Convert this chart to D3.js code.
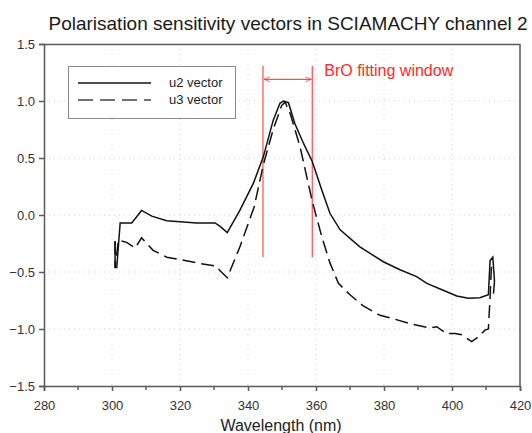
<!DOCTYPE html>
<html>
<head>
<meta charset="utf-8">
<script src="https://cdn.jsdelivr.net/npm/d3@7/dist/d3.min.js"></script>
<style>
    body { margin: 0; background: #fff; }
    svg { font-family: Arial, "Liberation Sans", sans-serif; }
</style>
</head>
<body>
<div id="chart"></div>
<script>
    'use strict';

    // u2 vector (solid)
    var u2Wavelength = [300.9, 300.9, 301.4, 302.4, 305.8, 308.7, 311.7, 316.1, 320.0, 324.9, 330.3, 331.8, 333.9,
        337.6, 341.6, 344.5, 347.4, 349.4, 350.4, 351.9, 353.8, 356.3, 358.9, 361.7, 364.1, 367.1, 372.9,
        379.8, 384.7, 389.6, 392.6, 397.4, 401.4, 404.8, 408.2, 410.7, 411.2, 412.0, 412.5, 412.2];
    var u2Values = [-0.23, -0.46, -0.46, -0.07, -0.07, 0.04, -0.01, -0.05, -0.06, -0.07, -0.07, -0.10, -0.155,
        0.04, 0.28, 0.51, 0.83, 0.98, 1.0, 0.985, 0.80, 0.63, 0.47, 0.22, 0.015, -0.13, -0.28,
        -0.41, -0.48, -0.54, -0.60, -0.66, -0.71, -0.73, -0.725, -0.70, -0.40, -0.37, -0.58, -0.69];

    // u3 vector (dashed)
    var u3Wavelength = [300.9, 300.9, 301.9, 304.3, 306.8, 308.7, 310.2, 312.1, 316.1, 320.0, 324.9, 330.8, 331.8,
        333.9, 337.6, 341.8, 344.5, 347.4, 349.9, 350.9, 352.4, 355.3, 358.9, 361.7, 364.1, 366.6, 370.0,
        374.0, 378.8, 382.7, 388.6, 393.5, 395.5, 398.4, 400.9, 402.8, 405.8, 407.7, 409.7, 410.7, 411.2, 411.6];
    var u3Values = [-0.23, -0.46, -0.22, -0.24, -0.29, -0.20, -0.25, -0.31, -0.37, -0.39, -0.42, -0.45, -0.49,
        -0.55, -0.28, 0.07, 0.44, 0.75, 0.96, 0.99, 0.89, 0.60, 0.12, -0.19, -0.42, -0.60, -0.70,
        -0.80, -0.88, -0.91, -0.96, -0.99, -0.98, -1.04, -1.04, -1.05, -1.11, -1.07, -1.01, -1.00, -0.72, -0.45];

    var xTicks = [280, 300, 320, 340, 360, 380, 400, 420];
    var xMinorTicks = [290, 310, 330, 350, 370, 390, 410];
    var yTicks = [-1.5, -1.0, -0.5, 0.0, 0.5, 1.0, 1.5];

    var broWindow = [344.4, 358.9];
    var broRange = [-0.37, 1.31];
    var broArrowY = 1.19;

    var seriesNames = ['u2 vector', 'u3 vector'];

    var margin = {top: 44, right: 12, bottom: 47, left: 44},
        width = 532 - margin.left - margin.right,
        height = 433 - margin.top - margin.bottom;

    var x = d3.scaleLinear().domain([280, 420]).range([0, width]);
    var y = d3.scaleLinear().domain([-1.5, 1.5]).range([height, 0]);

    var svg = d3.select('#chart').append('svg')
        .attr('width', 532)
        .attr('height', 433);

    var defs = svg.append('defs');
    ['start', 'end'].forEach(function (k) {
        defs.append('marker')
            .attr('id', 'arrow-' + k)
            .attr('viewBox', '0 0 10 10')
            .attr('refX', k === 'end' ? 10 : 0).attr('refY', 5)
            .attr('markerWidth', 7).attr('markerHeight', 6)
            .attr('markerUnits', 'userSpaceOnUse')
            .attr('orient', 'auto')
            .append('path')
            .attr('d', k === 'end' ? 'M0,1 L10,5 L0,9' : 'M10,1 L0,5 L10,9')
            .attr('fill', 'none')
            .attr('stroke', '#ff3b3b')
            .attr('stroke-width', 1.2);
    });

    var g = svg.append('g')
        .attr('transform', 'translate(' + margin.left + ',' + margin.top + ')');

    // grid
    g.append('g').selectAll('line')
        .data(xTicks.slice(1, -1))
        .enter().append('line')
        .attr('x1', x).attr('x2', x)
        .attr('y1', 0).attr('y2', height)
        .attr('stroke', '#c8c8c8')
        .attr('stroke-width', 0.8)
        .attr('stroke-dasharray', '1,4');

    g.append('g').selectAll('line')
        .data(yTicks.slice(1, -1))
        .enter().append('line')
        .attr('x1', 0).attr('x2', width)
        .attr('y1', y).attr('y2', y)
        .attr('stroke', '#c8c8c8')
        .attr('stroke-width', 0.8)
        .attr('stroke-dasharray', '1,4');

    // frame (top and right)
    g.append('path')
        .attr('d', 'M0,0.5H' + width + 'V' + height)
        .attr('fill', 'none')
        .attr('stroke', '#5a5a5a')
        .attr('stroke-width', 1.5);

    // axes
    var xAxis = g.append('g')
        .attr('transform', 'translate(0,' + height + ')')
        .call(d3.axisBottom(x).tickValues(xTicks).tickSize(5).tickPadding(10).tickFormat(d3.format('d')));

    g.append('g')
        .attr('transform', 'translate(0,' + height + ')')
        .selectAll('line')
        .data(xMinorTicks)
        .enter().append('line')
        .attr('x1', x).attr('x2', x)
        .attr('y1', 0).attr('y2', 4)
        .attr('stroke', '#5a5a5a')
        .attr('stroke-width', 1.5);

    var yAxis = g.append('g')
        .call(d3.axisLeft(y).tickValues(yTicks).tickSize(5).tickPadding(4).tickFormat(d3.format('.1f')));

    [xAxis, yAxis].forEach(function (a) {
        a.select('.domain').attr('stroke', '#5a5a5a').attr('stroke-width', 1.5);
        a.selectAll('.tick line').attr('stroke', '#5a5a5a').attr('stroke-width', 1.5);
        a.selectAll('.tick text')
            .attr('fill', '#333')
            .style('font-size', '13px')
            .style('font-family', 'Arial, "Liberation Sans", sans-serif');
    });

    // BrO window
    var bro = g.append('g');
    bro.selectAll('line.win')
        .data(broWindow)
        .enter().append('line')
        .attr('class', 'win')
        .attr('x1', x).attr('x2', x)
        .attr('y1', y(broRange[1])).attr('y2', y(broRange[0]))
        .attr('stroke', '#ff4a4a')
        .attr('stroke-width', 1.2);

    bro.append('line')
        .attr('x1', x(broWindow[0]) + 1).attr('x2', x(broWindow[1]) - 1)
        .attr('y1', y(broArrowY)).attr('y2', y(broArrowY))
        .attr('stroke', '#ff4a4a')
        .attr('stroke-width', 1.2)
        .attr('marker-start', 'url(#arrow-start)')
        .attr('marker-end', 'url(#arrow-end)');

    bro.append('text')
        .attr('x', x(broWindow[1]) + 12)
        .attr('y', y(broArrowY) - 3)
        .attr('fill', '#ff2a2a')
        .style('font-size', '16px')
        .text('BrO fitting window');

    // series
    var line = d3.line()
        .x(function (d) { return x(d[0]); })
        .y(function (d) { return y(d[1]); });

    g.append('path')
        .datum(d3.zip(u3Wavelength, u3Values))
        .attr('d', line)
        .attr('fill', 'none')
        .attr('stroke', '#111')
        .attr('stroke-width', 1.5)
        .attr('stroke-dasharray', '13,6');

    g.append('path')
        .datum(d3.zip(u2Wavelength, u2Values))
        .attr('d', line)
        .attr('fill', 'none')
        .attr('stroke', '#111')
        .attr('stroke-width', 1.5);

    // legend
    var legend = svg.append('g').attr('transform', 'translate(68,66)');
    legend.append('rect')
        .attr('x', 0.5).attr('y', 0.5)
        .attr('width', 167).attr('height', 52)
        .attr('fill', '#fff')
        .attr('stroke', '#8a8a8a')
        .attr('stroke-width', 1);

    var items = legend.selectAll('g.item')
        .data(seriesNames)
        .enter().append('g')
        .attr('class', 'item')
        .attr('transform', function (d, i) { return 'translate(0,' + (17 + i * 17) + ')'; });

    items.append('line')
        .attr('x1', 10).attr('x2', 83)
        .attr('y1', 0).attr('y2', 0)
        .attr('stroke', function (d, i) { return i === 0 ? '#111' : '#444'; })
        .attr('stroke-width', 1.5)
        .attr('stroke-dasharray', function (d, i) { return i === 0 ? null : '15,7'; });

    items.append('text')
        .attr('x', 101)
        .attr('y', 4)
        .attr('fill', '#222')
        .style('font-size', '13px')
        .text(function (d) { return d; });

    // title and axis label
    svg.append('text')
        .attr('x', 288)
        .attr('y', 30)
        .attr('text-anchor', 'middle')
        .attr('fill', '#1a1a1a')
        .style('font-size', '19px')
        .text('Polarisation sensitivity vectors in SCIAMACHY channel 2');

    svg.append('text')
        .attr('x', 281)
        .attr('y', 431)
        .attr('text-anchor', 'middle')
        .attr('fill', '#222')
        .style('font-size', '16px')
        .text('Wavelength (nm)');
</script>
</body>
</html>
